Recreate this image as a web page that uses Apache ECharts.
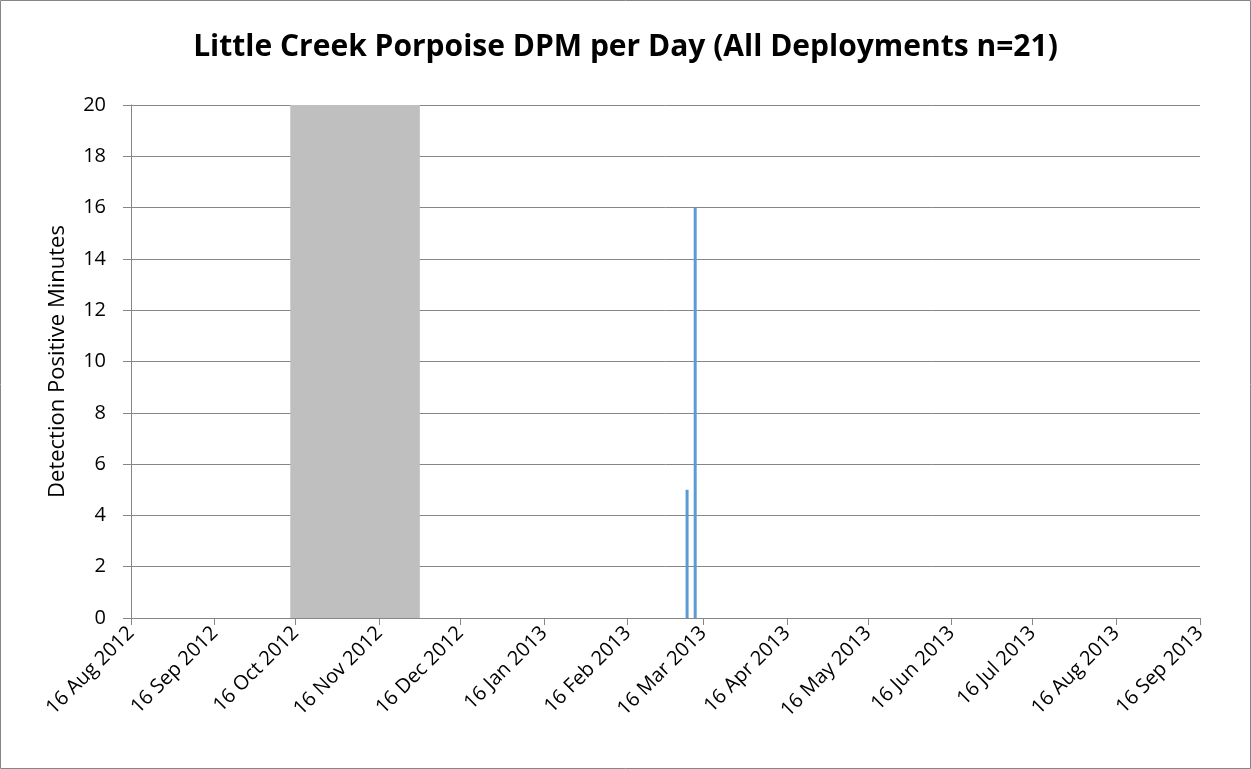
<!DOCTYPE html>
<html>
<head>
<meta charset="utf-8">
<script src="https://cdn.jsdelivr.net/npm/echarts@6/dist/echarts.min.js"></script>
<style>
html,body{margin:0;padding:0;background:#fff;}
#c{width:1251px;height:769px;}
</style>
</head>
<body>
<div id="c"></div>
<script>
// Data
const titleText = 'Little Creek Porpoise DPM per Day (All Deployments n=21)';
const yAxisName = 'Detection Positive Minutes';
const detectionDates = ['2013-03-10', '2013-03-13'];
const detectionValues = [5, 16];
const gapStart = ['2012-10-14'];
const gapEnd = ['2012-12-01'];
const gapValue = [20];
const xTickDates = ['2012-08-16','2012-09-16','2012-10-16','2012-11-16','2012-12-16','2013-01-16','2013-02-16','2013-03-16','2013-04-16','2013-05-16','2013-06-16','2013-07-16','2013-08-16','2013-09-16'];
const monthNames = ['Jan','Feb','Mar','Apr','May','Jun','Jul','Aug','Sep','Oct','Nov','Dec'];
const yMin = 0, yMax = 20, yInterval = 2;

function ts(s){ const p = s.split('-').map(Number); return Date.UTC(p[0], p[1]-1, p[2]); }
const tickValues = xTickDates.map(ts);

const chart = echarts.init(document.getElementById('c'), null, {renderer:'canvas'});
const FONT = '"Open Sans", "Noto Sans", sans-serif';
const gridCol = '#868686';

chart.setOption({
  animation:false,
  backgroundColor:'#fff',
  textStyle:{fontFamily:FONT},
  title:{
    text:titleText, left:'center', top:27,
    textStyle:{fontFamily:FONT, fontWeight:'bold', fontSize:30, color:'#000'}
  },
  grid:{left:131, right:51, top:105, bottom:151, containLabel:false},
  xAxis:{
    type:'value', min:tickValues[0], max:tickValues[tickValues.length-1],
    splitLine:{show:false},
    axisLine:{show:true, lineStyle:{color:gridCol, width:1}},
    axisTick:{show:true, customValues:tickValues, length:7, inside:false, lineStyle:{color:gridCol}},
    axisLabel:{
      customValues:tickValues, rotate:45, margin:12, fontSize:20, color:'#000', fontFamily:FONT,
      formatter:function(v){ const d=new Date(v); return d.getUTCDate()+' '+monthNames[d.getUTCMonth()]+' '+d.getUTCFullYear(); }
    }
  },
  yAxis:{
    type:'value', min:yMin, max:yMax, interval:yInterval,
    name:yAxisName, nameLocation:'middle', nameRotate:90, nameGap:62,
    nameTextStyle:{fontSize:22, color:'#000', fontFamily:FONT},
    axisLine:{show:true, lineStyle:{color:gridCol}},
    axisTick:{show:true, length:8, lineStyle:{color:gridCol}},
    axisLabel:{fontSize:20, color:'#000', margin:25, fontFamily:FONT},
    splitLine:{show:true, lineStyle:{color:gridCol, width:1}}
  },
  series:[
    {
      type:'custom', z:1,
      data: gapStart.map((s,i)=>[ts(s), ts(gapEnd[i]), gapValue[i]]),
      renderItem:function(params, api){
        const p0 = api.coord([api.value(0), 0]);
        const p1 = api.coord([api.value(1), api.value(2)]);
        return {type:'rect', shape:{x:p0[0], y:p1[1], width:p1[0]-p0[0], height:p0[1]-p1[1]}, style:{fill:'#BFBFBF'}};
      },
      encode:{x:[0,1], y:2}
    },
    {
      type:'bar', z:2, barWidth:3,
      itemStyle:{color:'#5B9BD5'},
      data: detectionDates.map((d,i)=>[ts(d), detectionValues[i]])
    }
  ],
  graphic:[{type:'rect', shape:{x:0.5, y:0.5, width:1250, height:768}, style:{fill:null, stroke:'#868686', lineWidth:1}, silent:true}]
});
</script>
</body>
</html>
